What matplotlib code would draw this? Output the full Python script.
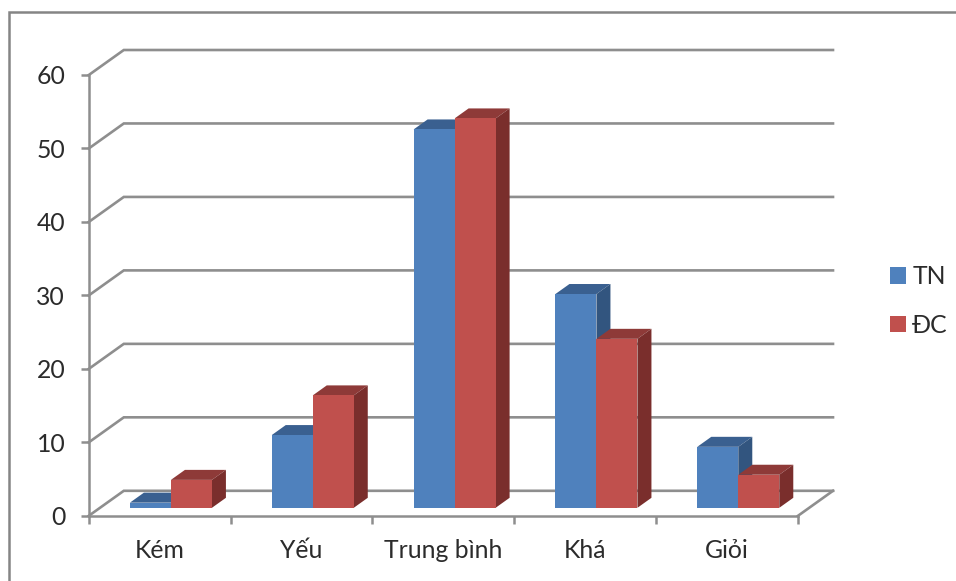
import matplotlib
matplotlib.use("Agg")
import matplotlib.pyplot as plt
from matplotlib.lines import Line2D
from matplotlib.patches import Patch, Polygon

plt.rcParams['font.family'] = ['Lato', 'Noto Sans', 'DejaVu Sans']

categories = ['Kém', 'Yếu', 'Trung bình', 'Khá', 'Giỏi']
tn_values = [0.7, 9.9, 51.5, 29.1, 8.3]
dc_values = [3.8, 15.3, 53.0, 23.0, 4.5]
y_ticks = [0, 10, 20, 30, 40, 50, 60]

W, H = 956, 581
X0, X1 = 88.8, 798.0      # front edge of the floor, pixels
Y0, Y60 = 515.8, 75.0     # value axis, pixels
PX_X = (X1 - X0) / len(categories)
PX_Y = (Y0 - Y60) / 60.0

# oblique projection: full depth in data units
DEPTH_X = 35.0 / PX_X
DEPTH_Y = 25.0 / PX_Y
BAR_FRONT = 0.32          # fraction of the floor depth where bars start
BAR_BACK = 0.72           # fraction of the floor depth where bars end
BAR_W = 41.0 / PX_X

GRID = '#8e8e8e'
TEXT = '#2b2b2b'
FONT = 17.8
BLUE = ('#4F81BD', '#3A6090', '#32557F')   # front, top, side
RED = ('#C0504D', '#8E3A38', '#7A2E2C')


def project(x, y, depth):
    """Data position of a point pushed back along the floor depth."""
    return x + depth * DEPTH_X, y + depth * DEPTH_Y


fig = plt.figure(figsize=(W / 100, H / 100), dpi=100, facecolor='white')
ax = fig.add_axes([X0 / W, 1 - Y0 / H, (X1 - X0) / W, (Y0 - Y60) / H])
ax.set_xlim(0, len(categories))
ax.set_ylim(0, 60)
ax.patch.set_visible(False)

for name in ('top', 'right'):
    ax.spines[name].set_visible(False)
for name in ('left', 'bottom'):
    ax.spines[name].set_color(GRID)
    ax.spines[name].set_linewidth(1.8)

ax.set_yticks(y_ticks)
ax.tick_params(axis='y', length=6, width=1.8, color=GRID, labelsize=FONT,
               labelcolor=TEXT, pad=11)
ax.set_xticks(range(len(categories) + 1))
ax.set_xticklabels([])
ax.tick_params(axis='x', which='major', length=6, width=1.8, color=GRID)
ax.set_xticks([i + 0.5 for i in range(len(categories))], minor=True)
ax.set_xticklabels(categories, minor=True, fontsize=FONT, color=TEXT)
ax.tick_params(axis='x', which='minor', length=0, pad=17)

# gridlines on the back wall and their returns along the side wall
n = len(categories)
for v in y_ticks:
    bx0, by0 = project(0, v, 1)
    bx1, by1 = project(n, v, 1)
    ax.plot([0, bx0, bx1], [v, by0, by1], color=GRID, lw=1.9,
            clip_on=False, zorder=1, solid_joinstyle='miter')
# right edge of the floor
fx, fy = project(n, 0, 1)
ax.plot([n, fx], [0, fy], color=GRID, lw=1.9, clip_on=False, zorder=1)


def draw_bar(left, value, colors, z):
    x0, y0 = project(left, 0, BAR_FRONT)
    ax.bar(x0, value, width=BAR_W, bottom=y0, align='edge', color=colors[0],
           edgecolor='none', zorder=z + 0.2, clip_on=False)
    x1 = x0 + BAR_W
    ytop = y0 + value
    dx = (BAR_BACK - BAR_FRONT) * DEPTH_X
    dy = (BAR_BACK - BAR_FRONT) * DEPTH_Y
    ax.add_patch(Polygon([(x0, ytop), (x1, ytop), (x1 + dx, ytop + dy), (x0 + dx, ytop + dy)],
                         closed=True, fc=colors[1], ec='none', zorder=z, clip_on=False))
    ax.add_patch(Polygon([(x1, y0), (x1 + dx, y0 + dy), (x1 + dx, ytop + dy), (x1, ytop)],
                         closed=True, fc=colors[2], ec='none', zorder=z, clip_on=False))


for i in range(n):
    centre = i + 0.5
    draw_bar(centre - BAR_W, tn_values[i], BLUE, 3 + i)
    draw_bar(centre, dc_values[i], RED, 3.5 + i)

# chart area border: only the top and left edges fall inside the image
fig.add_artist(Line2D([8.5 / W, 8.5 / W, 1], [0, 1 - 11.5 / H, 1 - 11.5 / H],
                      color='#858585', lw=1.8, transform=fig.transFigure,
                      solid_joinstyle='miter'))

handles = [Patch(fc=BLUE[0], ec='none', label='TN'),
           Patch(fc=RED[0], ec='none', label='ĐC')]
fig.legend(handles=handles, loc='center left', bbox_to_anchor=(890 / W, 1 - 301 / H),
           frameon=False, fontsize=FONT, labelcolor=TEXT, handlelength=0.65,
           handleheight=0.65, handletextpad=0.25, labelspacing=1.03,
           borderpad=0, borderaxespad=0)

fig.savefig('out.png', dpi=100, facecolor='white')
